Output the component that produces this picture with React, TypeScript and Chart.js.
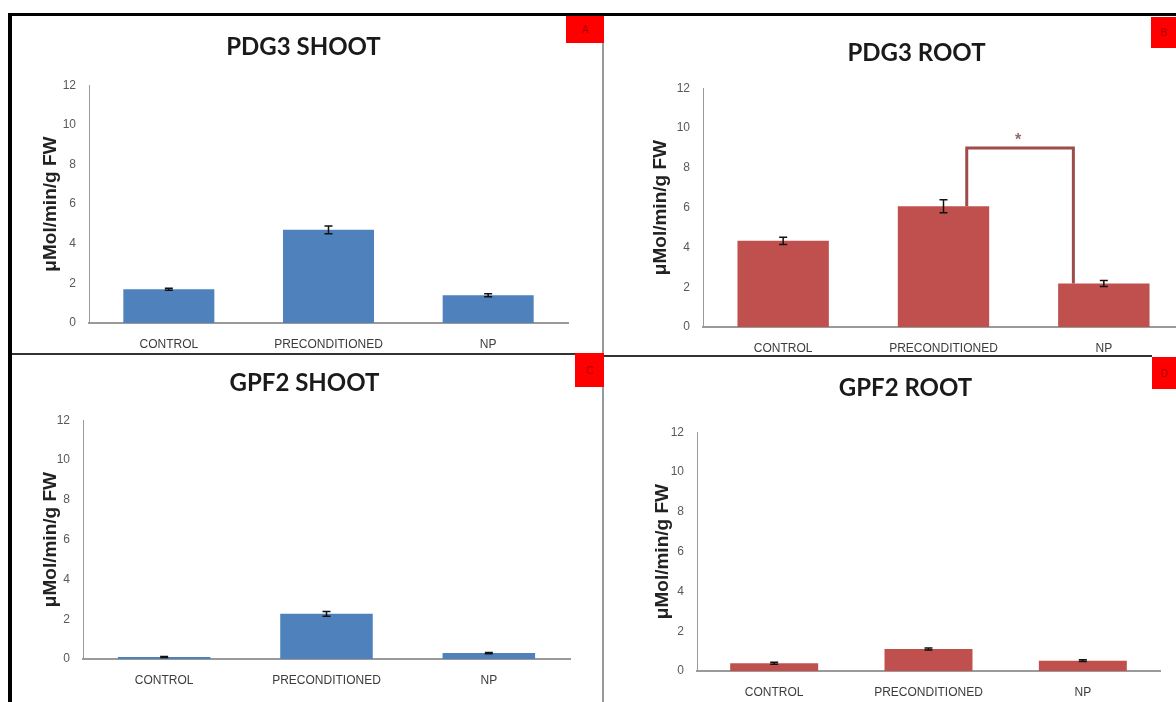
import React, { useEffect, useRef } from "react";
import { Chart, registerables } from "chart.js";

Chart.register(...registerables);

// ---------- data ----------
const categories = ["CONTROL", "PRECONDITIONED", "NP"];
const yTickValues = [0, 2, 4, 6, 8, 10, 12];
const yAxisTitle = "μMol/min/g FW";

const pdg3ShootValues = [1.7, 4.7, 1.4];
const pdg3ShootErrors = [0.05, 0.19, 0.07];

const pdg3RootValues = [4.33, 6.07, 2.19];
const pdg3RootErrors = [0.18, 0.33, 0.15];

const gpf2ShootValues = [0.1, 2.27, 0.3];
const gpf2ShootErrors = [0.03, 0.12, 0.03];

const gpf2RootValues = [0.39, 1.11, 0.52];
const gpf2RootErrors = [0.05, 0.05, 0.04];

const panelTitles = ["PDG3 SHOOT", "PDG3 ROOT", "GPF2 SHOOT", "GPF2 ROOT"];
const panelLetters = ["A", "B", "C", "D"];

// significance bracket in PDG3 ROOT (between PRECONDITIONED and NP)
const bracketFromIndex = 1;
const bracketToIndex = 2;
const bracketLevel = 9.0;
const bracketLabel = "*";

// ---------- styles ----------
const BLUE = "#4F81BD";
const RED = "#C0504D";

type PanelCfg = {
  title: string;
  values: number[];
  errors: number[];
  color: string;
  x: number; y: number; w: number; h: number;
  padLeft: number; padRight: number;
  yWidth: number; xHeight: number;
  titlePadTop: number; titlePadBottom: number;
  bracket?: boolean;
};

const panels: PanelCfg[] = [
  {
    title: panelTitles[0], values: pdg3ShootValues, errors: pdg3ShootErrors, color: BLUE,
    x: 14, y: 16, w: 588, h: 338,
    padLeft: 25, padRight: 34, yWidth: 50, xHeight: 31,
    titlePadTop: 17.2, titlePadBottom: 23.2,
  },
  {
    title: panelTitles[1], values: pdg3RootValues, errors: pdg3RootErrors, color: RED,
    x: 604, y: 16, w: 596, h: 340,
    padLeft: 45, padRight: 16, yWidth: 54, xHeight: 29,
    titlePadTop: 23.2, titlePadBottom: 20.2, bracket: true,
  },
  {
    title: panelTitles[2], values: gpf2ShootValues, errors: gpf2ShootErrors, color: BLUE,
    x: 14, y: 356, w: 588, h: 346,
    padLeft: 25, padRight: 32, yWidth: 44, xHeight: 43,
    titlePadTop: 13.2, titlePadBottom: 22.2,
  },
  {
    title: panelTitles[3], values: gpf2RootValues, errors: gpf2RootErrors, color: RED,
    x: 604, y: 357, w: 572, h: 345,
    padLeft: 47, padRight: 16, yWidth: 46, xHeight: 31,
    titlePadTop: 17.2, titlePadBottom: 29.2,
  },
];

const errorBarPlugin = {
  id: "errorBars",
  afterDatasetsDraw(chart: any, _args: any, opts: any) {
    const { ctx } = chart;
    const yScale = chart.scales.y;
    const meta = chart.getDatasetMeta(0);
    const vals = chart.data.datasets[0].data as number[];
    const errs: number[] = opts.errors || [];
    const cap = 8;
    ctx.save();
    ctx.strokeStyle = "#111";
    ctx.lineWidth = 1.5;
    meta.data.forEach((bar: any, i: number) => {
      const e = errs[i] || 0;
      const x = bar.x;
      const top = yScale.getPixelForValue(vals[i] + e);
      const bot = yScale.getPixelForValue(Math.max(0, vals[i] - e));
      ctx.beginPath();
      ctx.moveTo(x, top); ctx.lineTo(x, bot);
      ctx.moveTo(x - cap / 2, top); ctx.lineTo(x + cap / 2, top);
      ctx.moveTo(x - cap / 2, bot); ctx.lineTo(x + cap / 2, bot);
      ctx.stroke();
    });
    ctx.restore();
  },
};

const bracketPlugin = {
  id: "sigBracket",
  afterDatasetsDraw(chart: any, _args: any, opts: any) {
    if (!opts || !opts.enabled) return;
    const { ctx } = chart;
    const xs = chart.scales.x;
    const ys = chart.scales.y;
    const vals = chart.data.datasets[0].data as number[];
    const step = xs.getPixelForValue(1) - xs.getPixelForValue(0);
    const x1 = xs.getPixelForValue(opts.from) + opts.fromOffset * step;
    const x2 = xs.getPixelForValue(opts.to) + opts.toOffset * step;
    const yTop = ys.getPixelForValue(opts.level);
    const y1 = ys.getPixelForValue(vals[opts.from]);
    const y2 = ys.getPixelForValue(vals[opts.to]);
    ctx.save();
    ctx.strokeStyle = "#9E4C4A";
    ctx.lineWidth = 3;
    ctx.beginPath();
    ctx.moveTo(x1, y1); ctx.lineTo(x1, yTop); ctx.lineTo(x2, yTop); ctx.lineTo(x2, y2);
    ctx.stroke();
    ctx.fillStyle = "#8E6C6C";
    ctx.font = "bold 16px 'Liberation Sans'";
    ctx.textAlign = "center";
    ctx.textBaseline = "middle";
    ctx.fillText(opts.label, (x1 + x2) / 2 - 2, ys.getPixelForValue(opts.level + 0.35));
    ctx.restore();
  },
};

function Panel({ cfg }: { cfg: PanelCfg }) {
  const ref = useRef<HTMLCanvasElement>(null);
  useEffect(() => {
    if (!ref.current) return;
    const chart = new Chart(ref.current, {
      type: "bar",
      data: {
        labels: categories,
        datasets: [
          {
            data: cfg.values,
            backgroundColor: cfg.color,
            borderWidth: 0,
            barPercentage: 0.57,
            categoryPercentage: 1,
          },
        ],
      },
      plugins: [errorBarPlugin, bracketPlugin],
      options: {
        responsive: false,
        animation: false,
        devicePixelRatio: 1,
        layout: { padding: { left: cfg.padLeft, right: cfg.padRight, top: 0, bottom: 0 } },
        plugins: {
          legend: { display: false },
          tooltip: { enabled: false },
          title: {
            display: true,
            text: cfg.title,
            color: "#1a1a1a",
            font: { family: "Lato", size: 24, weight: "bold" },
            padding: { top: cfg.titlePadTop, bottom: cfg.titlePadBottom },
          },
          errorBars: { errors: cfg.errors },
          sigBracket: {
            enabled: !!cfg.bracket,
            from: bracketFromIndex,
            to: bracketToIndex,
            fromOffset: 0.145,
            toOffset: -0.19,
            level: bracketLevel,
            label: bracketLabel,
          },
        } as any,
        scales: {
          x: {
            offset: true,
            grid: { display: false, drawTicks: false },
            border: { display: true, color: "#9a9a9a", width: 2 },
            ticks: {
              color: "#3c3c3c",
              font: { family: "Liberation Sans", size: 12 },
              padding: 14,
              maxRotation: 0,
              autoSkip: false,
            },
            afterFit: (s: any) => { s.height = cfg.xHeight; },
          },
          y: {
            min: 0,
            max: 12,
            grid: { display: false, drawTicks: false },
            border: { display: true, color: "#9a9a9a", width: 1 },
            ticks: {
              color: "#595959",
              font: { family: "Liberation Sans", size: 12 },
              padding: 13,
            },
            afterBuildTicks: (s: any) => { s.ticks = yTickValues.map((v) => ({ value: v })); },
            title: {
              display: true,
              text: yAxisTitle,
              color: "#222",
              font: { family: "Liberation Sans", size: 19, weight: "bold" },
              padding: { top: 0, bottom: 0 },
            },
            afterFit: (s: any) => { s.width = cfg.yWidth; },
          },
        },
      } as any,
    });
    return () => chart.destroy();
  }, []);
  return (
    <canvas
      ref={ref}
      width={cfg.w}
      height={cfg.h}
      style={{ position: "absolute", left: cfg.x, top: cfg.y, width: cfg.w, height: cfg.h }}
    />
  );
}

const boxStyle = (l: number, t: number, w: number, h: number, bg: string): React.CSSProperties => ({
  position: "absolute", left: l, top: t, width: w, height: h, background: bg,
});

function RedTag({ l, t, w, h, letter }: { l: number; t: number; w: number; h: number; letter: string }) {
  return (
    <div
      style={{
        ...boxStyle(l, t, w, h, "#FE0000"),
        color: "#B00000",
        fontFamily: "Liberation Sans",
        fontSize: 10,
        display: "flex",
        alignItems: "center",
        justifyContent: "center",
      }}
    >
      {letter}
    </div>
  );
}

export default function App() {
  return (
    <div
      style={{
        position: "fixed", left: 0, top: 0, width: 1176, height: 702,
        overflow: "hidden", background: "#fff",
      }}
    >
      {panels.map((p, i) => (
        <Panel key={i} cfg={p} />
      ))}
      {/* frame */}
      <div style={boxStyle(8, 13, 1168, 3, "#000")} />
      <div style={boxStyle(8, 13, 4, 689, "#000")} />
      <div style={boxStyle(602, 43, 2, 659, "#999")} />
      <div style={boxStyle(12, 353, 563, 2, "#333")} />
      <div style={boxStyle(604, 355, 548, 2, "#333")} />
      <RedTag l={566} t={16} w={38} h={27} letter={panelLetters[0]} />
      <RedTag l={1151} t={17} w={25} h={31} letter={panelLetters[1]} />
      <RedTag l={575} t={353} w={29} h={34} letter={panelLetters[2]} />
      <RedTag l={1152} t={357} w={24} h={32} letter={panelLetters[3]} />
    </div>
  );
}
